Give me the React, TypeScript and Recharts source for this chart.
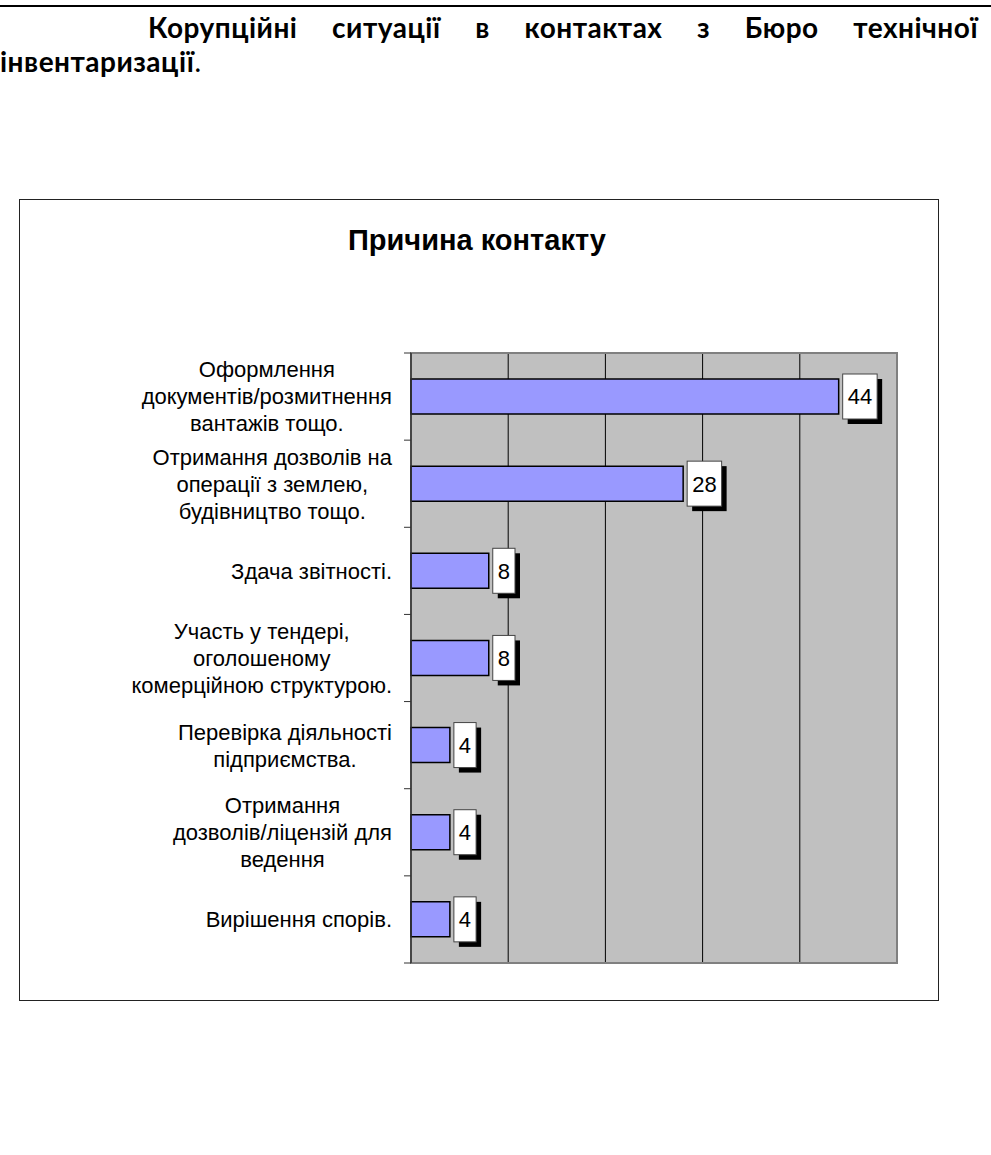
import { BarChart, Bar, XAxis, YAxis, CartesianGrid, LabelList, ReferenceArea } from 'recharts'

// категорії (рядки підписів розділені \n, як у вихідній діаграмі)
const categories = [
  'Оформлення\nдокументів/розмитнення\nвантажів тощо.',
  'Отримання дозволів на\nоперації з землею,\nбудівництво тощо.',
  'Здача звітності.',
  'Участь у тендері,\nоголошеному\nкомерційною структурою.',
  'Перевірка діяльності\nпідприємства.',
  'Отримання\nдозволів/ліцензій для\nведення',
  'Вирішення спорів.',
]
const values = [44, 28, 8, 8, 4, 4, 4]
const xTicks = [0, 10, 20, 30, 40, 50]
const gridValues = [10, 20, 30, 40]

const data = categories.map((name, i) => ({ name, value: values[i] }))

const FONT = '"Liberation Sans", Arial, sans-serif'
const LABEL_SIZE = 22
const LINE_H = 27

let ctx: CanvasRenderingContext2D | null = null
function measure(text: string, size: number) {
  if (!ctx) ctx = document.createElement('canvas').getContext('2d')
  if (!ctx) return text.length * size * 0.55
  ctx.font = `${size}px ${FONT}`
  return ctx.measureText(text).width
}

const NoTick = () => <g />

function CategoryTick(props: any) {
  const { x, y, payload } = props
  const lines = String(payload.value).split('\n')
  const off = payload.offset ?? 0
  const w = Math.max(...lines.map((l) => measure(l, LABEL_SIZE)))
  const cx = x - w / 2
  const axisX = x + 19
  const isLast = payload.value === categories[categories.length - 1]
  return (
    <g>
      <line x1={axisX - 7} x2={axisX} y1={y - off} y2={y - off} stroke="#333" strokeWidth={1} />
      {isLast && <line x1={axisX - 7} x2={axisX} y1={y + off} y2={y + off} stroke="#333" strokeWidth={1} />}
      <text textAnchor="middle" fontSize={LABEL_SIZE} fontFamily={FONT} fill="#000">
        {lines.map((l, i) => (
          <tspan key={i} x={cx} y={y + (i - (lines.length - 1) / 2) * LINE_H} dy="0.36em">{l}</tspan>
        ))}
      </text>
    </g>
  )
}

function ValueBadge(props: any) {
  const x = Number(props.x), y = Number(props.y)
  const width = Number(props.width), height = Number(props.height)
  const txt = String(props.value)
  const bw = measure(txt, LABEL_SIZE) + 10
  const bh = 45
  const bx = x + width + 4
  const by = y + height / 2 - bh / 2
  return (
    <g>
      <rect x={bx + 5} y={by + 5} width={bw} height={bh} fill="#000" />
      <rect x={bx} y={by} width={bw} height={bh} fill="#fff" stroke="#444" strokeWidth={1} />
      <text x={bx + bw / 2} y={by + bh / 2} dy="0.36em" textAnchor="middle" fontSize={LABEL_SIZE} fontFamily={FONT} fill="#000">
        {txt}
      </text>
    </g>
  )
}

export default function App() {
  return (
    <div style={{ position: 'absolute', left: 0, top: 0, width: 991, height: 1155, background: '#fff' }}>
      <div style={{ position: 'absolute', left: 0, top: 5, width: 991, height: 2, background: '#000' }} />
      <div style={{ position: 'absolute', left: 0, top: 10, width: 978, fontFamily: 'Lato, "Open Sans", sans-serif', fontSize: 28, lineHeight: '34px', fontWeight: 700, letterSpacing: 0.5, color: '#000' }}>
        <div style={{ textIndent: 148, textAlign: 'justify', textAlignLast: 'justify' }}>
          Корупційні ситуації в контактах з Бюро технічної
        </div>
        <div>
          інвентаризації<span style={{ fontWeight: 400 }}>.</span>
        </div>
      </div>

      <div style={{ position: 'absolute', left: 19, top: 199, width: 920, height: 802 }}>
        <BarChart
          width={920}
          height={802}
          data={data}
          layout="vertical"
          margin={{ top: 154, right: 42, bottom: 38, left: 0 }}
        >
          <CartesianGrid
            xAxisId="b"
            yAxisId="left"
            horizontal={false}
            verticalValues={gridValues}
            stroke="#000"
            strokeWidth={1}
            fill="#C0C0C0"
            fillOpacity={1}
          />
          <ReferenceArea
            xAxisId="b"
            yAxisId="left"
            x1={0}
            x2={50}
            fill="none"
            stroke="#808080"
            strokeWidth={2}
            ifOverflow="visible"
          />
          <XAxis xAxisId="b" type="number" domain={[0, 50]} ticks={xTicks} tick={<NoTick />} tickLine={false} height={0} axisLine={false} />
          <YAxis
            yAxisId="left"
            type="category"
            dataKey="name"
            width={392}
            interval={0}
            tickSize={7}
            tickMargin={12}
            tickLine={false}
            tick={<CategoryTick />}
            axisLine={{ stroke: '#333', strokeWidth: 1.5 }}
          />
          <Bar xAxisId="b" yAxisId="left" dataKey="value" fill="#9999FF" stroke="#000" strokeWidth={1.5} barSize={35} isAnimationActive={false}>
            <LabelList dataKey="value" content={<ValueBadge />} />
          </Bar>
        </BarChart>
        <div style={{ position: 'absolute', left: 0, top: 23, width: 916, textAlign: 'center', fontFamily: FONT, fontWeight: 700, fontSize: 29, lineHeight: '36px', color: '#000' }}>
          Причина контакту
        </div>
        <div style={{ position: 'absolute', left: 0, top: 0, width: 920, height: 802, boxSizing: 'border-box', border: '1.5px solid #222', pointerEvents: 'none' }} />
      </div>
    </div>
  )
}
